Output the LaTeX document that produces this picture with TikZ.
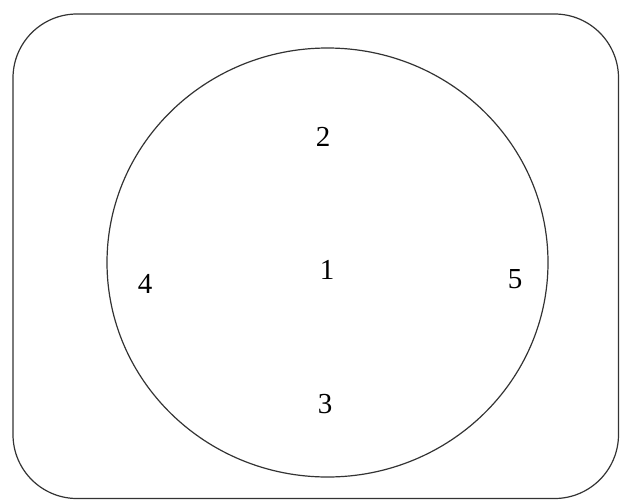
\documentclass[tikz,border=0pt]{standalone}
\usepackage{fontspec}
\setmainfont{Liberation Serif}
\usetikzlibrary{shapes.geometric}

\begin{document}
\begin{tikzpicture}[x=1pt,y=-1pt,line width=1.2pt,
 zone/.style={font=\fontsize{29}{30}\selectfont,inner sep=0pt}]
\useasboundingbox (0,0) rectangle (620,501);
\draw[black!80,rounded corners=64pt] (13,14) rectangle (618.5,498.5);
\node[draw=black!80,ellipse,minimum width=441pt,minimum height=429pt,inner sep=0pt] (disc) at (327.5,262.5) {};
\node[zone] (z1) at (327,270) {1};
\node[zone] (z2) at (323,137) {2};
\node[zone] (z3) at (325,404) {3};
\node[zone] (z4) at (145,284) {4};
\node[zone] (z5) at (515,279) {5};
\end{tikzpicture}
\end{document}
